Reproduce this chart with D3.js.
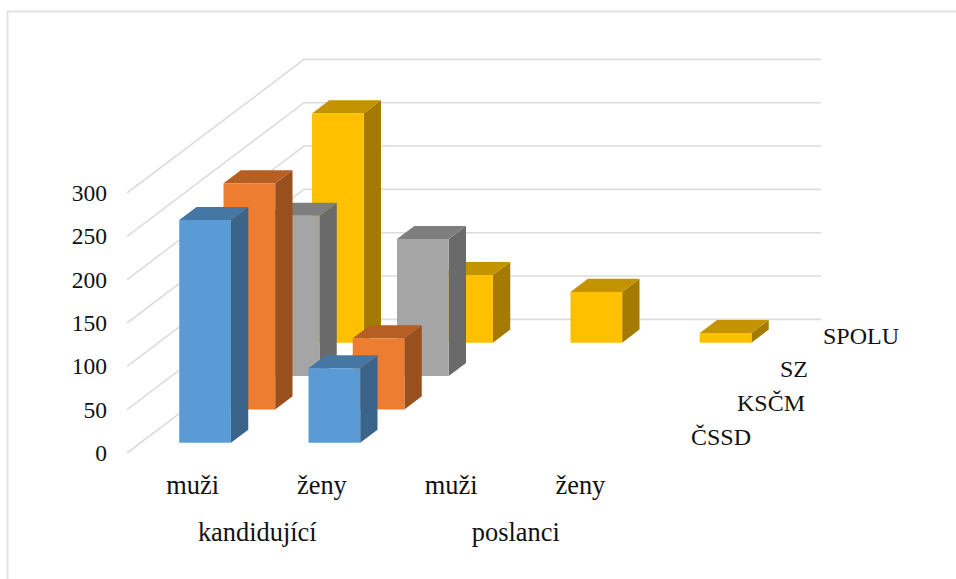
<!DOCTYPE html>
<html><head><meta charset="utf-8">
<style>html,body{margin:0;padding:0;background:#fff}svg{display:block}text{font-family:"Liberation Serif",serif;fill:#111}</style>
<script src="https://cdn.jsdelivr.net/npm/d3@7"></script></head>
<body><svg id="c" width="956" height="579"></svg>
<script>
const categories = ["muži","ženy","muži ","ženy "];
const categoryLabels = ["muži","ženy","muži","ženy"];
const groups = ["kandidující","poslanci"];
const seriesNames = ["ČSSD","KSČM","SZ","SPOLU"];
const valuesCSSD = [257,86,0,0];
const valuesKSCM = [261,82,0,0];
const valuesSZ = [185,158,0,0];
const valuesSPOLU = [264.5,78,58.5,11];
const tickValues = [0,50,100,150,200,250,300];
const allValues = [valuesCSSD,valuesKSCM,valuesSZ,valuesSPOLU];
const colors = [
 {front:"#5b9bd5",top:"#4676a3",side:"#3a6489"},
 {front:"#ed7d31",top:"#b55f25",side:"#98501f"},
 {front:"#a5a5a5",top:"#7e7e7e",side:"#6a6a6a"},
 {front:"#ffc000",top:"#c39300",side:"#a47b00"}];

const svg = d3.select("#c");
const ox = 127, oy = 453;
const slope = -133.6/177;
const x = d3.scaleBand().domain(categories).range([0,517]).paddingInner(.6).paddingOuter(.3);
const depth = d3.scaleBand().domain(seriesNames).range([0,177]).paddingInner(.609).paddingOuter(.3045);
const h = d3.scaleLinear().domain([0,300]).range([0,260]);
const P = (px,pd,pv)=>[ox+px+pd, oy+pd*slope-h(pv)];
const poly = a=>a.map(p=>p.join(",")).join(" ");

// frame
svg.append("path").attr("d","M7.5,579V11.5H956").attr("fill","none").attr("stroke","#e2e2e2").attr("stroke-width",2);

// gridlines
svg.append("g").selectAll("polyline").data(tickValues).join("polyline")
 .attr("points",v=>poly([P(0,0,v),P(0,177,v),P(517,177,v)]))
 .attr("fill","none").attr("stroke","#dcdcdc").attr("stroke-width",1.6);

// bars, back to front
const bars = [];
seriesNames.forEach((s,si)=>categories.forEach((c,ci)=>{ if(allValues[si][ci]>0) bars.push({s,si,c,ci,v:allValues[si][ci]}); }));
bars.sort((a,b)=>b.si-a.si||a.ci-b.ci);
const g = svg.append("g").selectAll("g").data(bars).join("g");
const w = x.bandwidth(), dw = depth.bandwidth();
g.append("polygon").attr("fill",d=>colors[d.si].side).attr("points",d=>{const a=x(d.c)+w,e=depth(d.s);
 return poly([P(a,e,0),P(a,e+dw,0),P(a,e+dw,d.v),P(a,e,d.v)]);});
g.append("polygon").attr("fill",d=>colors[d.si].top).attr("points",d=>{const a=x(d.c),e=depth(d.s);
 return poly([P(a,e,d.v),P(a+w,e,d.v),P(a+w,e+dw,d.v),P(a,e+dw,d.v)]);});
g.append("polygon").attr("fill",d=>colors[d.si].front).attr("points",d=>{const a=x(d.c),e=depth(d.s);
 return poly([P(a,e,0),P(a+w,e,0),P(a+w,e,d.v),P(a,e,d.v)]);});

// value axis
const yAxis = d3.scaleLinear().domain([0,300]).range([oy,oy-260]);
const axisG = svg.append("g").attr("transform","translate(107,0)")
 .call(d3.axisLeft(yAxis).tickValues(tickValues).tickSize(0).tickPadding(0));
axisG.select(".domain").remove();
axisG.selectAll("text").attr("font-size",23.5).style("font-family",'"Liberation Serif",serif').attr("fill","#111").attr("dy","0.32em");

// category labels
svg.append("g").selectAll("text").data(categories).join("text")
 .attr("x",c=>ox+x(c)+w/2+1).attr("y",494).attr("text-anchor","middle").attr("font-size",26.4)
 .text((c,i)=>categoryLabels[i]);
svg.append("g").selectAll("text").data(groups).join("text")
 .attr("x",(d,i)=>ox+x(categories[i*2])+w/2+1+(x(categories[1])-x(categories[0]))/2).attr("y",541).attr("text-anchor","middle").attr("font-size",26.4)
 .text(d=>d);

// series labels
const seriesX = [751,805,808,899], seriesY=[445,411,377,344];
svg.append("g").selectAll("text").data(seriesNames).join("text")
 .attr("x",(d,i)=>seriesX[i]).attr("y",(d,i)=>seriesY[i]).attr("text-anchor","end").attr("font-size",24)
 .text(d=>d);
</script></body></html>
